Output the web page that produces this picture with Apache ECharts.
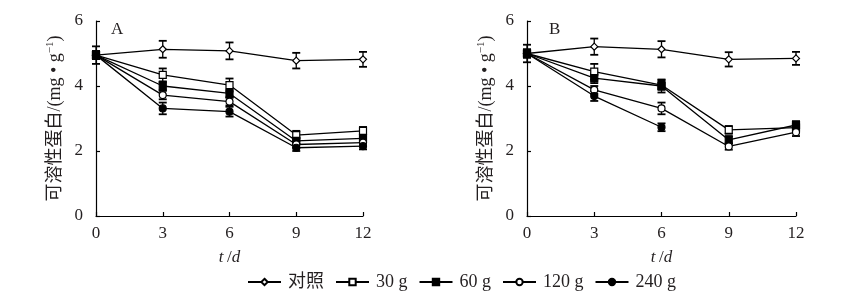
<!DOCTYPE html>
<html>
<head>
<meta charset="utf-8">
<script src="https://cdn.jsdelivr.net/npm/echarts@6/dist/echarts.min.js"></script>
<style>html,body{margin:0;padding:0;background:#fff}#c{width:841px;height:301px}</style>
</head>
<body>
<div id="c"></div>
<script>
// ---- data ----
var days = [0, 3, 6, 9, 12];
var seriesNames = ['对照', '30 g', '60 g', '120 g', '240 g'];
var yTicks = [0, 2, 4, 6];
var xTicks = [0, 3, 6, 9, 12];

// Panel A means
var A_ctrl = [4.95, 5.13, 5.08, 4.78, 4.82];
var A_30 = [4.95, 4.34, 4.03, 2.49, 2.62];
var A_60 = [4.95, 4.00, 3.77, 2.31, 2.39];
var A_120 = [4.95, 3.72, 3.52, 2.20, 2.26];
var A_240 = [4.95, 3.31, 3.21, 2.10, 2.15];
// Panel A errors
var A_ctrl_e = [0.27, 0.26, 0.26, 0.24, 0.23];
var A_30_e = [0.12, 0.20, 0.20, 0.13, 0.12];
var A_60_e = [0.12, 0.13, 0.12, 0.10, 0.10];
var A_120_e = [0.12, 0.13, 0.12, 0.10, 0.10];
var A_240_e = [0.12, 0.18, 0.15, 0.10, 0.10];

// Panel B means
var B_ctrl = [5.00, 5.21, 5.13, 4.82, 4.85];
var B_30 = [5.00, 4.44, 4.03, 2.65, 2.72];
var B_60 = [5.00, 4.24, 4.00, 2.34, 2.80];
var B_120 = [5.00, 3.88, 3.31, 2.14, 2.58];
var B_240 = [5.00, 3.69, 2.73, null, null];
// Panel B errors
var B_ctrl_e = [0.27, 0.25, 0.25, 0.22, 0.20];
var B_30_e = [0.12, 0.24, 0.15, 0.12, 0.12];
var B_60_e = [0.12, 0.15, 0.20, 0.12, 0.12];
var B_120_e = [0.12, 0.12, 0.18, 0.10, 0.12];
var B_240_e = [0.12, 0.15, 0.12, null, null];

// ---- styles ----
var FONT = '"Liberation Serif", "Times New Roman", "Noto Sans CJK SC", serif';
var TXT = '#231f20';
var symbols = [
  {symbol: 'diamond', size: 7, fill: '#fff'},
  {symbol: 'rect', size: 7, fill: '#fff'},
  {symbol: 'rect', size: 7, fill: '#000'},
  {symbol: 'circle', size: 7, fill: '#fff'},
  {symbol: 'circle', size: 7, fill: '#000'}
];

function pairs(vals) {
  return days.map(function (d, i) { return [d, vals[i]]; });
}
function errData(vals, errs) {
  var out = [];
  days.forEach(function (d, i) {
    if (vals[i] != null && errs[i] != null) out.push([d, vals[i] - errs[i], vals[i] + errs[i]]);
  });
  return out;
}
function errSeries(vals, errs, gi) {
  return {
    type: 'custom', xAxisIndex: gi, yAxisIndex: gi, z: 2, silent: true,
    data: errData(vals, errs),
    encode: {x: 0, y: [1, 2]},
    renderItem: function (params, api) {
      var x = api.value(0);
      var lo = api.coord([x, api.value(1)]);
      var hi = api.coord([x, api.value(2)]);
      var w = 4;
      var st = {stroke: '#000', lineWidth: 1.3};
      var cap = {stroke: '#000', lineWidth: 1.8};
      return {
        type: 'group',
        children: [
          {type: 'line', shape: {x1: lo[0], y1: lo[1], x2: hi[0], y2: hi[1]}, style: st},
          {type: 'line', shape: {x1: lo[0] - w, y1: lo[1], x2: lo[0] + w, y2: lo[1]}, style: cap},
          {type: 'line', shape: {x1: hi[0] - w, y1: hi[1], x2: hi[0] + w, y2: hi[1]}, style: cap}
        ]
      };
    }
  };
}
function lineSeries(name, vals, k, gi) {
  var s = symbols[k];
  return {
    name: name, type: 'line', xAxisIndex: gi, yAxisIndex: gi, z: 3,
    data: pairs(vals), connectNulls: false,
    symbol: s.symbol, symbolSize: s.size, showSymbol: true,
    lineStyle: {color: '#000', width: 1.3},
    itemStyle: {color: s.fill, borderColor: '#000', borderWidth: 1.2},
    emphasis: {disabled: true}, animation: false
  };
}

var groups = [
  {vals: [A_ctrl, A_30, A_60, A_120, A_240], errs: [A_ctrl_e, A_30_e, A_60_e, A_120_e, A_240_e]},
  {vals: [B_ctrl, B_30, B_60, B_120, B_240], errs: [B_ctrl_e, B_30_e, B_60_e, B_120_e, B_240_e]}
];

var series = [];
groups.forEach(function (g, gi) {
  g.vals.forEach(function (v, k) { series.push(errSeries(v, g.errs[k], gi)); });
  g.vals.forEach(function (v, k) { series.push(lineSeries(seriesNames[k], v, k, gi)); });
});

function xAxis(gi) {
  return {
    type: 'value', gridIndex: gi, min: 0, max: 12, interval: 3,
    name: '{i|t} {n|/}{i|d}', nameLocation: 'middle', nameGap: 33,
    nameTextStyle: {rich: {i: {fontFamily: FONT, fontStyle: 'italic', fontSize: 17, color: TXT}, n: {fontFamily: FONT, fontSize: 17, color: TXT}}},
    axisLine: {lineStyle: {color: '#000', width: 1.2}},
    axisTick: {inside: true, length: 4, lineStyle: {color: '#000', width: 1.2}},
    axisLabel: {fontFamily: FONT, fontSize: 17, color: TXT, margin: 9},
    splitLine: {show: false}
  };
}
function yAxis(gi) {
  return {
    type: 'value', gridIndex: gi, min: 0, max: 6, interval: 2,
    name: '{a|可溶性蛋白/(mg • g}{s|−1}{a|)}', nameLocation: 'middle', nameGap: 32, nameRotate: 90,
    nameTextStyle: {rich: {
      a: {fontFamily: FONT, fontSize: 18, color: TXT, verticalAlign: 'bottom'},
      s: {fontFamily: FONT, fontSize: 11, color: TXT, verticalAlign: 'top', padding: [0, 0, 8, 0]}
    }},
    axisLine: {show: true, lineStyle: {color: '#000', width: 1.2}},
    axisTick: {show: true, inside: true, length: 4, lineStyle: {color: '#000', width: 1.2}},
    axisLabel: {fontFamily: FONT, fontSize: 17, color: TXT, margin: 13},
    splitLine: {show: false}
  };
}

var chart = echarts.init(document.getElementById('c'), null, {renderer: 'canvas'});
chart.setOption({
  animation: false,
  backgroundColor: '#fff',
  grid: [
    {left: 96, right: 478, top: 21, bottom: 85},
    {left: 527, right: 45, top: 21, bottom: 85}
  ],
  xAxis: [xAxis(0), xAxis(1)],
  yAxis: [yAxis(0), yAxis(1)],
  legend: {
    data: seriesNames, left: 247, top: 273, padding: 0, itemWidth: 33, itemHeight: 8, itemGap: 11,
    textStyle: {fontFamily: FONT, fontSize: 18, color: TXT, padding: [0, 0, 0, 2]},
    selectedMode: false
  },
  graphic: [
    {type: 'text', left: 111, top: 21, style: {text: 'A', fontFamily: FONT, fontSize: 17, fill: TXT}},
    {type: 'text', left: 549, top: 21, style: {text: 'B', fontFamily: FONT, fontSize: 17, fill: TXT}}
  ],
  series: series
});
</script>
</body>
</html>
